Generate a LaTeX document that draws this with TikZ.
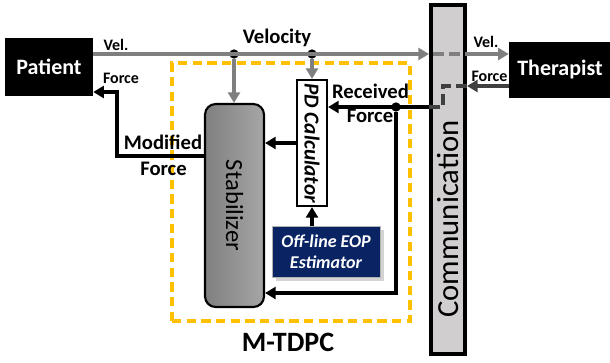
\documentclass[tikz,border=0pt]{standalone}
\usepackage{fontspec}
\setmainfont{Carlito}
\usetikzlibrary{positioning,arrows.meta,shadows}
\definecolor{velgray}{HTML}{7F7F7F}
\definecolor{frcgray}{HTML}{404040}
\definecolor{boxyellow}{HTML}{FFC000}
\definecolor{commgray}{HTML}{D0CECE}
\definecolor{eopblue}{HTML}{0A2463}

\begin{document}
\begin{tikzpicture}[x=0.75pt,y=-0.75pt,
    every node/.style={font=\bfseries},
    agent/.style={fill=black,text=white,inner sep=0pt,font=\fontsize{16.5}{19}\selectfont\bfseries},
    vel/.style={velgray,line width=2.6pt},
    frc/.style={black,line width=2.6pt},
    tip/.style={-{Triangle[length=8pt,width=9pt]}},
    dot/.style={circle,fill=black,inner sep=0pt,minimum size=7pt},
    small/.style={anchor=base,font=\fontsize{12}{14}\selectfont\bfseries},
    big/.style={anchor=base,font=\fontsize{15.5}{18}\selectfont\bfseries},
  ]
  \useasboundingbox (0,0) rectangle (610,362);

  % blocks
  \node[agent,minimum width=66pt,minimum height=43.5pt] (patient) at (49,67) {Patient};
  \node[agent,minimum width=76.5pt,minimum height=42pt] (therapist) at (560,70) {Therapist};
  \node[draw=black,line width=3pt,fill=commgray,minimum width=25.5pt,minimum height=261.75pt,
        inner sep=0pt] (comm) at (448,179.5) {};
  \node[rotate=90,font=\fontsize{23}{26}\selectfont] at (448,219) {Communication};
  \node[draw=boxyellow,line width=2.6pt,dash pattern=on 7pt off 4pt,minimum width=178.5pt,
        minimum height=193.5pt,inner sep=0pt] (mtdpc) at (291,192) {};
  \node[anchor=base,font=\fontsize{21}{24}\selectfont\bfseries] at (288,351) {M-TDPC};

  \node[draw=black,line width=1.6pt,rounded corners=8pt,left color=gray!100,right color=gray!70,
        minimum width=44.25pt,minimum height=152.25pt,inner sep=0pt] (stab) at (234.5,205.5) {};
  \node[rotate=-90,font=\fontsize{18.5}{21}\selectfont] at (stab.center) {Stabilizer};
  \node[draw=black,line width=1.6pt,fill=white,minimum width=22.5pt,minimum height=94.5pt,
        inner sep=0pt] (pd) at (312,143) {};
  \node[rotate=-90,font=\fontsize{16}{18}\selectfont\bfseries\itshape] at (pd.center) {PD Calculator};
  \node[draw=gray!60,fill=eopblue,text=white,align=center,minimum width=81pt,minimum height=38.25pt,
        inner sep=0pt,font=\fontsize{13.5}{15.75}\selectfont\bfseries\itshape,
        drop shadow={shadow xshift=3pt,shadow yshift=-3pt,opacity=0.35}] (eop) at (326,251.5)
        {Off-line EOP\\Estimator};

  % velocity
  \node[dot] (vd1) at (234,54) {};
  \node[dot] (vd2) at (312,54) {};
  \draw[vel,tip] (patient.east |- vd1) -- (comm.west |- vd1);
  \draw[vel,dash pattern=on 8pt off 4pt] ([xshift=3pt]comm.west |- vd1) -- (comm.east |- vd1);
  \draw[vel,tip] (comm.east |- vd1) -- (therapist.west |- vd1);
  \draw[vel,tip] (vd1) -- (vd1 |- stab.north);
  \draw[vel,tip] (vd2) -- (pd.north);

  % force
  \coordinate (thf) at (509,86);
  \node[dot] (rf) at (396,107) {};
  \coordinate (rfb) at (396,293);
  \coordinate (mf) at (117,156);
  \draw[frc,frcgray,tip] (therapist.west |- thf) -- (comm.east |- thf);
  \draw[frcgray,line width=2.6pt,dash pattern=on 8pt off 4pt]
    (comm.east |- thf) -| ([xshift=-3.75pt]comm.center |- rf) -- (comm.west |- rf);
  \draw[frc,tip] (comm.west |- rf) -- (pd.east |- rf);
  \draw[frc,tip] (rf) -- (rfb) -- (stab.east |- rfb);
  \draw[frc,tip] (pd.west) -- (stab.east |- pd.west);
  \draw[frc,tip] (eop.north -| pd.south) -- (pd.south);
  \draw[frc,tip] (stab.west |- mf) -- (mf) |- (patient.east |- 0,92);

  % labels
  \node[small] at (116,50) {Vel.};
  \node[small] at (121,83) {Force};
  \node[small] at (486,47) {Vel.};
  \node[small] at (489.5,81) {Force};
  \node[big] at (277,43) {Velocity};
  \node[big] at (163,149) {Modified};
  \node[big] at (163.5,175) {Force};
  \node[big] at (370.5,98) {Received};
  \node[big] at (370,122) {Force};
\end{tikzpicture}
\end{document}
